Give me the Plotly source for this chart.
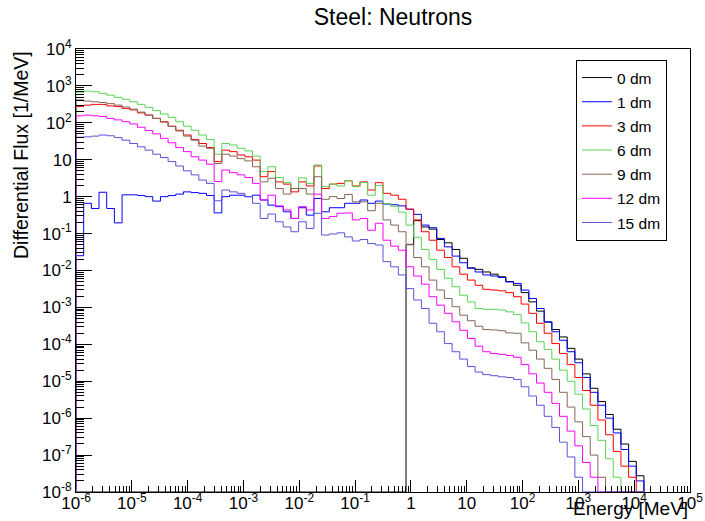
import numpy as np
import plotly.graph_objects as go

TITLE = "Steel: Neutrons"
X_TITLE = "Energy [MeV]"
Y_TITLE = "Differential Flux [1/MeV]"

# Histogram binning: equal log-width bins on 1e-6..1e5 (80 bins), first 74 used
LOG_E_MIN, LOG_E_MAX, N_AXIS_BINS, N_BINS = -6, 5, 80, 74

SERIES_NAMES = ["0 dm", "1 dm", "3 dm", "6 dm", "9 dm", "12 dm", "15 dm"]
SERIES_COLORS = ["#000000", "#0000ff", "#ff0000", "#59d454", "#876656", "#ff00ff", "#5954d9"]

# log10 of differential flux per bin (None = empty bin)
LOG_FLUX_0DM = [None] * 43 + [
    -1.30, -0.65, -0.82, -0.88, -1.16, -1.25, -1.43, -1.67, -1.93, -1.97, -2.04,
    -2.10, -2.17, -2.30, -2.40, -2.60, -2.85, -3.10, -3.40, -3.60, -3.80, -4.11,
    -4.40, -4.80, -5.19, -5.55, -5.90, -6.30, -6.70, -7.17, -7.56]

LOG_FLUX_1DM = [
    -1.60, -0.18, -0.32, 0.12, -0.32, -0.71, 0.05, 0.05, 0.03, 0.00, -0.12, 0.00,
    0.03, 0.07, 0.13, 0.11, 0.09, 0.03, -0.44,
    0.00, 0.04, 0.04, 0.00, 0.04, -0.09, -0.23, -0.27, -0.41, -0.59, -0.30, -0.50,
    -0.05, -0.41, -0.30, -0.30, -0.18, -0.18, -0.09, -0.18, -0.12, -0.20, -0.22, -0.25,
    -0.34, -0.48, -0.77, -0.84, -1.13, -1.36, -1.61, -1.79, -1.94, -2.04, -2.12,
    -2.15, -2.19, -2.31, -2.35, -2.53, -2.76, -3.03, -3.39, -3.66, -3.89, -4.20,
    -4.50, -4.90, -5.30, -5.65, -6.00, -6.40, -6.85, -7.30, -7.70]

LOG_FLUX_3DM = [
    2.44, 2.48, 2.50, 2.50, 2.46, 2.44, 2.39, 2.35, 2.27, 2.21, 2.12, 2.03, 1.91,
    1.80, 1.67, 1.55, 1.44, 1.33, 0.95,
    1.26, 1.22, 1.13, 1.08, 0.99, 0.54, 0.68, 0.40, 0.34, 0.13, 0.40, 0.29, 0.83,
    0.22, 0.34, 0.36, 0.43, 0.29, 0.40, 0.18, 0.38, 0.09, 0.04, -0.07,
    -0.34, -0.63, -0.95, -1.18, -1.45, -1.65, -1.90, -2.10, -2.26, -2.40, -2.51,
    -2.53, -2.55, -2.60, -2.71, -2.91, -3.16, -3.43, -3.70, -3.98, -4.25, -4.55,
    -4.90, -5.25, -5.65, -6.05, -6.45, -6.90, -7.30, -7.60] + [None]

LOG_FLUX_6DM = [
    2.83, 2.86, 2.84, 2.80, 2.75, 2.69, 2.64, 2.57, 2.50, 2.42, 2.33, 2.24, 2.15,
    2.03, 1.91, 1.80, 1.67, 1.55, 1.15,
    1.44, 1.40, 1.31, 1.24, 1.10, 0.68, 0.81, 0.52, 0.38, 0.22, 0.51, 0.36, 0.86,
    0.27, 0.34, 0.29, 0.43, 0.27, 0.38, 0.04, 0.30, -0.19, -0.26, -0.42,
    -0.77, -1.10, -1.43, -1.70, -1.97, -2.21, -2.44, -2.67, -2.85, -3.03, -3.05,
    -3.05, -3.07, -3.12, -3.19, -3.42, -3.66, -3.93, -4.14, -4.40, -4.70, -5.00,
    -5.35, -5.75, -6.20, -6.60, -7.10, -7.60] + [None] * 3

LOG_FLUX_9DM = [
    2.62, 2.59, 2.57, 2.55, 2.52, 2.48, 2.43, 2.37, 2.29, 2.21, 2.12, 2.02, 1.90,
    1.78, 1.64, 1.53, 1.37, 1.31, 0.90,
    1.15, 1.10, 1.03, 0.97, 0.81, 0.40, 0.50, 0.22, 0.07, 0.22, 0.22, 0.07, 0.54,
    -0.07, 0.00, -0.05, 0.06, -0.14, -0.14, -0.38, -0.18, -0.63, -0.77, -0.95,
    -1.29, -1.65, -1.90, -2.26, -2.53, -2.76, -2.98, -3.21, -3.36, -3.51, -3.60,
    -3.61, -3.63, -3.69, -3.70, -3.96, -4.16, -4.40, -4.65, -4.95, -5.30, -5.70,
    -6.10, -6.50, -7.00, -7.60] + [None] * 5

LOG_FLUX_12DM = [
    2.19, 2.21, 2.19, 2.17, 2.12, 2.08, 2.03, 1.97, 1.88, 1.79, 1.70, 1.58, 1.46,
    1.33, 1.22, 1.08, 0.99, 0.88, 0.41,
    0.72, 0.65, 0.59, 0.52, 0.36, -0.09, 0.04, -0.25, -0.36, -0.59, -0.27, -0.36,
    0.07, -0.59, -0.54, -0.45, -0.44, -0.63, -0.59, -0.91, -0.72, -1.18, -1.34, -1.45,
    -1.90, -2.15, -2.37, -2.71, -2.94, -3.16, -3.39, -3.62, -3.84, -4.05, -4.20,
    -4.25, -4.27, -4.30, -4.35, -4.55, -4.80, -5.05, -5.30, -5.60, -5.95, -6.35,
    -6.75, -7.20, -7.60] + [None] * 6

LOG_FLUX_15DM = [
    1.61, 1.62, 1.64, 1.67, 1.65, 1.60, 1.53, 1.44, 1.35, 1.26, 1.15, 1.06, 0.95,
    0.83, 0.70, 0.59, 0.45, 0.36, -0.11,
    0.18, 0.13, 0.09, 0.00, -0.18, -0.59, -0.47, -0.68, -0.82, -0.95, -0.68, -0.86,
    -0.45, -1.04, -1.01, -0.98, -1.09, -1.20, -1.16, -1.27, -1.31, -1.76, -1.90, -2.12,
    -2.49, -2.80, -3.03, -3.43, -3.66, -3.98, -4.20, -4.40, -4.60, -4.75, -4.82,
    -4.85, -4.88, -4.90, -4.95, -5.15, -5.40, -5.65, -5.95, -6.25, -6.65, -7.05,
    -7.60] + [None] * 8

SERIES = [LOG_FLUX_0DM, LOG_FLUX_1DM, LOG_FLUX_3DM, LOG_FLUX_6DM,
          LOG_FLUX_9DM, LOG_FLUX_12DM, LOG_FLUX_15DM]

X_TICK_EXP = list(range(-6, 6))
Y_TICK_EXP = list(range(-8, 5))
Y_LOG_RANGE = [-8, 4]
Y_FLOOR = 10.0 ** Y_LOG_RANGE[0]


def power_label(p):
    if p == 0:
        return "1"
    if p == 1:
        return "10"
    return f"10<sup>{p}</sup>"


edges = np.logspace(LOG_E_MIN, LOG_E_MAX, N_AXIS_BINS + 1)[:N_BINS + 1]

fig = go.Figure()
for name, color, logs in zip(SERIES_NAMES, SERIES_COLORS, SERIES):
    vals = [10.0 ** v if v is not None else Y_FLOOR for v in logs]
    xs = [edges[0]] + list(edges[:N_BINS]) + [edges[N_BINS]]
    ys = [Y_FLOOR] + vals + [Y_FLOOR]
    fig.add_trace(go.Scatter(
        x=xs, y=ys, mode="lines", name=name, legendgroup=name,
        line=dict(color=color, width=1, shape="hv"), hoverinfo="skip"))

FONT = "Liberation Sans, Arial, Helvetica, sans-serif"

x_minor = [m * 10.0 ** p for p in range(LOG_E_MIN, LOG_E_MAX) for m in range(2, 10)]
y_minor = [m * 10.0 ** p for p in range(Y_LOG_RANGE[0], Y_LOG_RANGE[1]) for m in range(2, 10)]

fig.update_xaxes(
    type="log", range=[LOG_E_MIN, LOG_E_MAX], automargin=False,
    showline=True, linecolor="black", linewidth=1, mirror=True,
    showgrid=False, zeroline=False,
    ticks="inside", ticklen=12, tickcolor="black", tickwidth=1,
    tickmode="array", tickvals=[10.0 ** p for p in X_TICK_EXP],
    ticktext=[power_label(p) for p in X_TICK_EXP],
    tickfont=dict(size=17, family=FONT, color="black"),
    ticklabelstandoff=-4,
    minor=dict(ticks="inside", ticklen=6, tickcolor="black", tickwidth=1,
               tickmode="array", tickvals=x_minor, showgrid=False),
)
fig.update_yaxes(
    type="log", range=Y_LOG_RANGE, automargin=False,
    showline=True, linecolor="black", linewidth=1, mirror=True,
    showgrid=False, zeroline=False,
    ticks="inside", ticklen=16, tickcolor="black", tickwidth=1,
    tickmode="array", tickvals=[10.0 ** p for p in Y_TICK_EXP],
    ticktext=[power_label(p) for p in Y_TICK_EXP],
    tickfont=dict(size=17, family=FONT, color="black"),
    minor=dict(ticks="inside", ticklen=8, tickcolor="black", tickwidth=1,
               tickmode="array", tickvals=y_minor, showgrid=False),
)

fig.update_layout(
    width=705, height=521,
    margin=dict(l=76, r=15, t=49, b=29, autoexpand=False),
    paper_bgcolor="white", plot_bgcolor="white",
    font=dict(family=FONT, size=17, color="black"),
    title=dict(text=TITLE, x=(393 - 76) / 614, xref="paper", xanchor="center",
               y=1 - 17 / 521, yanchor="middle",
               font=dict(size=23, family=FONT, color="black")),
    showlegend=True,
    legend=dict(x=(576 - 76) / 614, y=1 - (60 - 49) / 443, xanchor="left", yanchor="top",
                bordercolor="black", borderwidth=1, bgcolor="white",
                font=dict(size=15.5, family=FONT, color="black"),
                tracegroupgap=1, itemwidth=30, traceorder="grouped"),
    annotations=[
        dict(text=X_TITLE, x=1, y=-(521 - 492) / 443, xref="paper", yref="paper",
             xanchor="right", yanchor="bottom", showarrow=False,
             font=dict(size=19, family=FONT, color="black")),
        dict(text=Y_TITLE, x=(21 - 76) / 614, y=1, xref="paper", yref="paper",
             xanchor="center", yanchor="top", textangle=-90, showarrow=False,
             font=dict(size=19.5, family=FONT, color="black")),
    ],
)

fig.write_html("out.html")
